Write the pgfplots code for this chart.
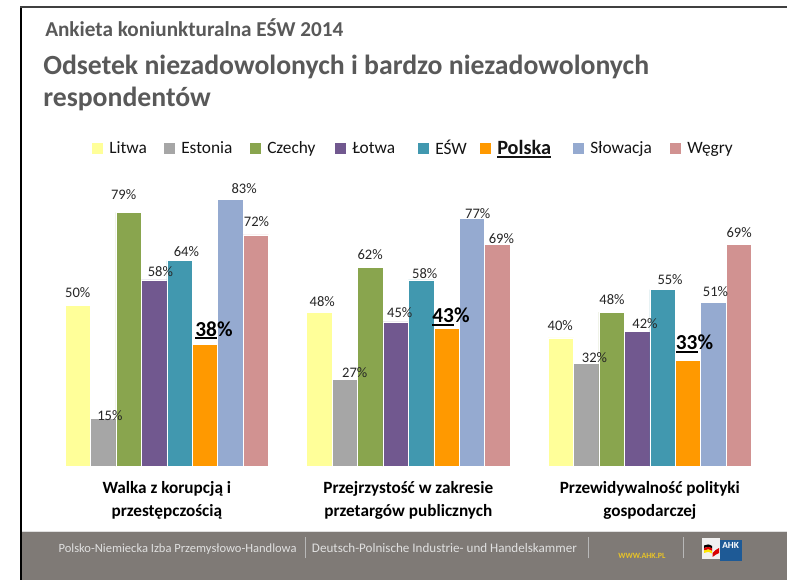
\documentclass[border=0pt]{standalone}
\usepackage{pgfplots}
\pgfplotsset{compat=1.18}
\usepackage{fontspec}
\setmainfont{Carlito}

\definecolor{cLitwa}{RGB}{255,255,153}
\definecolor{cEstonia}{RGB}{166,166,166}
\definecolor{cCzechy}{RGB}{137,165,78}
\definecolor{cLotwa}{RGB}{113,88,143}
\definecolor{cESW}{RGB}{65,152,175}
\definecolor{cPolska}{RGB}{255,153,0}
\definecolor{cSlowacja}{RGB}{149,170,208}
\definecolor{cWegry}{RGB}{209,146,145}
\definecolor{titlegray}{RGB}{89,89,89}
\definecolor{footgray}{RGB}{127,122,118}
\definecolor{ahkyellow}{RGB}{232,196,40}
\definecolor{ahkblue}{RGB}{30,90,150}

% thick underline like the slide's
\newsavebox\ulbox
\newcommand\thickul[1]{\sbox\ulbox{#1}\rlap{\rule[-2.3pt]{\wd\ulbox}{1.3pt}}\usebox\ulbox}
% legend entry of fixed width (keeps the slide's spacing)
\newcommand\lent[2]{\makebox[#1][l]{#2}}

\begin{document}
% 1 unit = 1 px of the 787x580 slide
\begin{tikzpicture}[x=0.75pt,y=0.75pt]
\path[use as bounding box] (0,0) rectangle (787,580);
\fill[white] (0,0) rectangle (787,580);

% footer band
\fill[footgray] (22,0) rectangle (787,49);
\draw[black!12, line width=0.6pt] (22,49) -- (787,49);

% slide border
\draw[black, line width=1.5pt] (21,0) -- (21,573.5);
\draw[black!75, line width=1.5pt] (20.25,573) -- (787,573);

% titles
\node[anchor=base west, inner sep=0, text=titlegray,
  font=\fontsize{15.9}{18}\selectfont\bfseries] at (45,543.3) {Ankieta koniunkturalna EŚW 2014};
\node[anchor=base west, inner sep=0, text=titlegray,
  font=\fontsize{20.8}{25}\selectfont\bfseries] at (43,505) {Odsetek niezadowolonych i bardzo niezadowolonych};
\node[anchor=base west, inner sep=0, text=titlegray,
  font=\fontsize{20.8}{25}\selectfont\bfseries] at (43,473) {respondentów};

\begin{axis}[
  at={(34.54pt,84.98pt)}, anchor=south west,
  scale only axis, width=543.4pt, height=241.5pt,
  xmin=-0.5, xmax=2.5, ymin=0, ymax=100,
  ybar=0pt, bar width=19.08pt,
  axis line style={draw=none},
  ymajorticks=false,
  xtick={0,1,2}, major tick length=0pt,
  xticklabels={{Walka z korupcją i\\przestępczością},
               {Przejrzystość w zakresie\\przetargów publicznych},
               {Przewidywalność polityki\\gospodarczej}},
  xticklabel style={align=center, inner sep=0pt, yshift=-10.8pt,
    font=\fontsize{12.9}{17.3}\selectfont\bfseries, text=black},
  every axis plot/.append style={draw=white, line width=0.4pt},
  /pgf/number format/assume math mode=true,
  nodes near coords={\pgfmathprintnumber{\pgfplotspointmeta}\%},
  nodes near coords align={center},
  visualization depends on={\thisrow{dx}\as\dx},
  visualization depends on={\thisrow{dy}\as\dy},
  every node near coord/.append style={inner sep=0pt,
    font=\fontsize{10.9}{12}\selectfont, text=black!85,
    xshift=\dx*0.75pt, yshift=\dy*0.75pt},
  legend columns=-1,
  legend image code/.code={\fill[#1,draw=none] (0pt,-4.1pt) rectangle (8.25pt,4.1pt);},
  legend style={draw=none, fill=none, inner sep=0pt,
    nodes={inner sep=0pt},
    at={(0.0634,0.9876)}, anchor=west,
    font=\fontsize{13}{14}\selectfont, text=black!92,
    /tikz/every odd column/.append style={column sep=4.5pt},
    /tikz/every even column/.append style={column sep=0pt}},
]
\addplot[fill=cLitwa] table[x=x,y=y] {
x y dx dy
0 50 0 13
1 48 3 10.6
2 40 -0.5 12.5
};
\addplot[fill=cEstonia] table[x=x,y=y] {
x y dx dy
0 15 6.7 2.3
1 27 10 7.3
2 32 8.3 6.5
};
\addplot[fill=cCzechy] table[x=x,y=y] {
x y dx dy
0 79 -5 17.3
1 62 0 12.8
2 48 0.3 12.1
};
\addplot[fill=cLotwa] table[x=x,y=y] {
x y dx dy
0 58 6.3 8.3
1 45 4.2 9.3
2 42 7.9 8.2
};
\addplot[fill=cESW] table[x=x,y=y] {
x y dx dy
0 64 6.9 9.3
1 58 3.7 6.7
2 55 7.5 9.5
};
\addplot[fill=cPolska,
  nodes near coords={\thickul{\pgfmathprintnumber{\pgfplotspointmeta}}\%},
  every node near coord/.append style={font=\fontsize{16}{18}\selectfont\bfseries, text=black}]
  table[x=x,y=y] {
x y dx dy
0 38 9 14
1 43 4.5 11.5
2 33 6.5 16.8
};
\addplot[fill=cSlowacja] table[x=x,y=y] {
x y dx dy
0 83 13.7 11
1 77 5.8 5
2 51 2 10.7
};
\addplot[fill=cWegry] table[x=x,y=y] {
x y dx dy
0 72 0.6 13.3
1 69 4 6.3
2 69 0.3 12.3
};
\legend{\lent{41.25pt}{Litwa}, \lent{51.75pt}{Estonia}, \lent{51pt}{Czechy},
  \lent{49.5pt}{Łotwa}, \lent{33.75pt}{EŚW},
  \lent{57pt}{\fontsize{15.2}{16}\selectfont\bfseries\thickul{Polska}},
  \lent{60pt}{Słowacja}, Węgry}
\end{axis}

% footer texts
\node[anchor=base west, inner sep=0, font=\fontsize{9.4}{11}\selectfont, text=black!12]
  at (58.3,27) {Polsko-Niemiecka Izba Przemysłowo-Handlowa};
\draw[black!28, line width=0.6pt] (305,21.7) -- (305,43.3);
\node[anchor=base west, inner sep=0, font=\fontsize{9.8}{11}\selectfont, text=black!12]
  at (311.7,27) {Deutsch-Polnische Industrie- und Handelskammer};
\draw[black!28, line width=0.6pt] (588,21.7) -- (588,43.3);
\node[anchor=base west, inner sep=0, font=\fontsize{6}{7}\selectfont\bfseries, text=ahkyellow]
  at (618,21) {WWW.AHK.PL};
\draw[black!28, line width=0.6pt] (683,21.7) -- (683,43.3);

% AHK logo
\fill[black!6] (701.7,21) rectangle (720,42);
\fill[black] (704,34.5) .. controls (707,36) and (709,36) .. (712,34) -- (712,31.5) .. controls (709,33.5) and (707,33.5) .. (704,32) -- cycle;
\fill[red!85!black] (704,32) .. controls (707,33.5) and (709,33.5) .. (712,31.5) -- (712,29) .. controls (709,31) and (707,31) .. (704,29.5) -- cycle;
\fill[yellow!90!orange] (704,29.5) .. controls (707,31) and (709,31) .. (712,29) -- (712,26.5) .. controls (709,28.5) and (707,28.5) .. (704,27) -- cycle;
\fill[red!85!black] (712.5,27) .. controls (714.5,29) and (716.5,31) .. (719,32) -- (719,27) .. controls (716.5,26) and (714.5,24.5) .. (712.5,23) -- cycle;
\fill[ahkblue] (719.5,19) rectangle (741.7,40);
\node[anchor=base, inner sep=0, font=\fontsize{7}{8}\selectfont\bfseries, text=white]
  at (730.6,31) {AHK};
\end{tikzpicture}
\end{document}
